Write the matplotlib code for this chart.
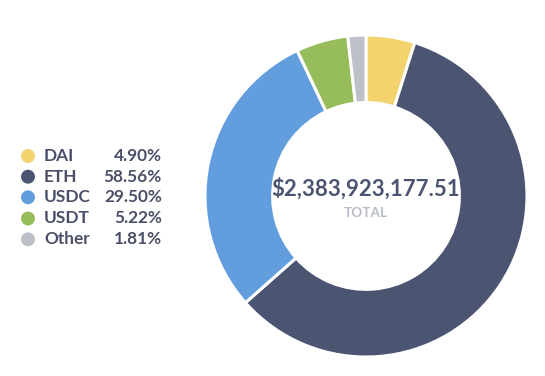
import matplotlib.pyplot as plt
from matplotlib.patches import Ellipse

# ---- Data ----
labels = ["DAI", "ETH", "USDC", "USDT", "Other"]
shares = [4.90, 58.56, 29.50, 5.22, 1.81]
colors = ["#F2D36E", "#4B5572", "#629EDE", "#96BC5C", "#BEC0C8"]
total_text = "$2,383,923,177.51"

plt.rcParams['font.family'] = ['Lato', 'DejaVu Sans']

W, H = 545, 376
fig = plt.figure(figsize=(W / 100, H / 100), dpi=100)

# ---- Donut ----
cx, cy, r = 366, 196, 161
ax = fig.add_axes([(cx - r) / W, (H - cy - r) / H, 2 * r / W, 2 * r / H])
ax.pie(shares, colors=colors, startangle=90, counterclock=False, radius=1,
       wedgeprops=dict(width=0.42, edgecolor="white", linewidth=2.2))
ax.set_xlim(-1, 1)
ax.set_ylim(-1, 1)
ax.set_aspect("equal")
ax.axis("off")

ax.text(0, 0.045, total_text, ha="center", va="center", fontsize=16,
        fontweight="bold", color="#4B5572")
ax.text(0, -0.105, "TOTAL", ha="center", va="center", fontsize=9.8,
        fontweight="bold", color="#B8BCC6")

# ---- Legend ----
row_y = [156, 176.7, 197.3, 218.5, 239.3]
for lab, s, c, y in zip(labels, shares, colors, row_y):
    fy = 1 - y / H
    fig.patches.append(Ellipse((28 / W, fy), 12.5 / W, 12.5 / H,
                               transform=fig.transFigure, color=c, figure=fig))
    fig.text(44 / W, fy, lab, ha="left", va="center", fontsize=12.4,
             fontweight="bold", color="#4B5068")
    fig.text(162 / W, fy, f"{s:.2f}%", ha="right", va="center", fontsize=12.4,
             fontweight="bold", color="#4B5068")

plt.savefig("out.png", dpi=100)
